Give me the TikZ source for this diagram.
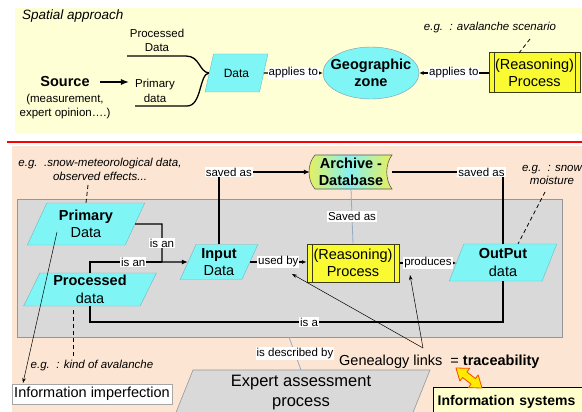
\documentclass[tikz,border=0pt]{standalone}
\usepackage{fontspec}
\setmainfont{Liberation Sans}
\usetikzlibrary{shapes.geometric,arrows.meta,calc}
\definecolor{panelyellow}{RGB}{255,255,214}
\definecolor{peach}{RGB}{252,229,210}
\definecolor{boxgray}{RGB}{217,217,217}
\definecolor{boxline}{RGB}{150,150,150}
\definecolor{cyanfill}{RGB}{128,245,245}
\definecolor{cyanline}{RGB}{110,185,190}
\definecolor{geoline}{RGB}{130,150,170}
\definecolor{procyellow}{RGB}{250,250,50}
\definecolor{procline}{RGB}{60,60,20}
\definecolor{linkblue}{RGB}{150,170,200}
\definecolor{infoyellow}{RGB}{255,255,204}
\definecolor{archyellow}{RGB}{232,240,90}
\definecolor{archcyan}{RGB}{135,240,240}
\definecolor{arrowyellow}{RGB}{255,235,0}
\definecolor{arroworange}{RGB}{255,70,0}
\newcommand{\fsz}[2]{\fontsize{#1}{#2}\selectfont}
\begin{document}
\begin{tikzpicture}[x=1pt,y=-1pt,
  para/.style={trapezium, trapezium left angle=#1, trapezium right angle={180-#1},
    trapezium stretches=true, draw=cyanline, fill=cyanfill, inner sep=0pt,
    align=center, font=\fsz{14.5}{17.5}},
  proc/.style={draw=procline, fill=procyellow, line width=1pt, inner sep=0pt,
    align=center, font=\fsz{14.5}{17},
    path picture={\draw[procline, line width=0.8pt]
      ([xshift=5pt]path picture bounding box.north west) -- ([xshift=5pt]path picture bounding box.south west)
      ([xshift=-5pt]path picture bounding box.north east) -- ([xshift=-5pt]path picture bounding box.south east);}},
  lbl/.style={fill=white, inner sep=1pt, font=\fsz{11.5}{13}},
  egtext/.style={font=\itshape\fsz{11.5}{13.5}, inner sep=0pt},
  conn/.style={line width=1.3pt},
  bigarr/.style={-{Latex[length=8pt,width=6pt]}},
  medarr/.style={-{Latex[length=6pt,width=5pt]}},
  smallarr/.style={-{Latex[length=4.5pt,width=4pt]}},
  thinarr/.style={line width=0.5pt, -{Stealth[length=5pt,width=3.5pt]}},
  dashline/.style={line width=0.8pt, dash pattern=on 4pt off 3pt},
  linkline/.style={line width=0.8pt, draw=linkblue}
]
\useasboundingbox (0,0) rectangle (582,412);
\fill[white] (0,0) rectangle (582,412);
% ---------- top panel ----------
\fill[panelyellow] (15,8) rectangle (582,133);
\node[font=\itshape\fsz{13.5}{16}, anchor=base west, inner sep=0pt] (spat) at (22,20) {Spatial approach};
\node[font=\fsz{11.5}{14}, align=center, inner sep=1pt] (procd) at (157,40) {Processed\\Data};
\node[font=\fsz{11.5}{15}, align=center, inner sep=1pt] (primd) at (155,90.5) {Primary\\data};
\node[font=\bfseries\fsz{14.5}{17}, inner sep=1pt] (src) at (65,82) {Source};
\node[font=\fsz{11.5}{13.5}, align=center, inner sep=0pt] (srcsub) at (65,106.5) {(measurement,\\expert opinion….)};
\draw[conn, bigarr, shorten <=9pt, shorten >=5pt] (src.east) -- (src.east -| primd.west);
\coordinate (tc1) at (127,56);
\coordinate (bc1) at (135,106);
\coordinate (dj) at (209,73);
\draw[conn] (tc1) -- (186,56) .. controls (200,56) and (199,72) .. (dj);
\draw[conn] (bc1) -- (187,106) .. controls (202,106) and (199,74) .. (dj);
\node[para=61, minimum width=63, minimum height=38, font=\fsz{12}{14}] (data) at (236.5,73) {Data};
\node[ellipse, draw=geoline, fill=cyanfill, minimum width=96, minimum height=52, inner sep=0pt] (geo) at (371,73) {};
\node[font=\bfseries\fsz{14.5}{17}, align=center, inner sep=0pt] (geot) at (geo.center) {Geographic\\zone};
\node[proc, minimum width=91, minimum height=40] (rp1) at (534.5,73) {(Reasoning)\\Process};
\draw[conn, smallarr] (data.east) -- node[lbl]{applies to} (geo.west);
\draw[conn, smallarr] (rp1.west) -- node[lbl]{applies to} (geo.east);
\node[egtext] (eg1) at (490,28) {e.g.\ \ : avalanche scenario};
\coordinate (d1a) at (530,39);
\coordinate (d1b) at (519,53);
\draw[dashline] (d1a) -- (d1b);
% ---------- separator ----------
\draw[red, line width=2pt] (7,142) -- (582,142);
% ---------- bottom panel ----------
\fill[peach] (12,146) rectangle (582,412);
\draw[boxline, fill=boxgray, line width=0.6pt] (17,199) rectangle (562,337);
\node[egtext, align=center] (eg2) at (100,169.5) {e.g.\ \ .snow-meteorological data,\\observed effects...};
\coordinate (d2a) at (88,185);
\coordinate (d2b) at (86,203);
\draw[dashline] (d2a) -- (d2b);
\node[egtext, align=center] (eg4) at (552,175) {e.g.\ \ : snow\\moisture};
\coordinate (d4a) at (545,192);
\coordinate (d4b) at (518,244);
\draw[dashline] (d4a) -- (d4b);
% archive shape
\shade[left color=archyellow, right color=archyellow, middle color=archcyan, draw=gray!70!black, line width=0.6pt]
  (315,155) -- (392,155) .. controls (385,164) and (385,180) .. (392,189) -- (315,189)
  .. controls (307,180) and (307,164) .. (315,155) -- cycle;
\node[minimum width=82, minimum height=34, inner sep=0pt, align=center, font=\bfseries\fsz{14.5}{17.5}] (arch) at (351,172) {Archive -\\Database};
\node[para=64.5, minimum width=118, minimum height=42] (pd) at (86,224) {\textbf{Primary}\\Data};
\node[para=67, minimum width=134, minimum height=33] (pr) at (90,289.5) {\textbf{Processed}\\data};
\node[para=66, minimum width=78, minimum height=35] (in) at (219,262) {\textbf{Input}\\Data};
\node[para=72, minimum width=108, minimum height=37] (out) at (503,262.5) {\textbf{OutPut}\\data};
\node[proc, minimum width=92, minimum height=38] (rp2) at (353,263) {(Reasoning)\\Process};
% connectors
\coordinate (jn) at (162,262);
\draw[conn, medarr] (pd.east) -| node[lbl, pos=0.75]{is an} (jn) -- (in.west);
\draw[conn] (pr.center |- pr.north) |- node[lbl, pos=0.8]{is an} (jn);
\draw[conn, medarr] (in.center |- in.north) |- node[lbl, pos=0.554]{saved as} (arch.west);
\draw[conn] (out.center |- out.north) |- node[lbl, pos=0.597]{saved as} (arch.east);
\draw[linkline] (arch.south) -- node[lbl]{Saved as} (rp2.north);
\draw[conn, smallarr] (in.east) -- node[lbl]{used by} (in.east -| rp2.west);
\draw[conn, smallarr] (rp2.east) -- node[lbl]{produces} (rp2.east -| out.west);
\coordinate (isa) at (309,322);
\draw[conn] (out.center |- out.south) |- (isa) -| (pr.center |- pr.south);
\node[lbl] (isal) at (isa) {is a};
\coordinate (d3a) at (73,310);
\coordinate (d3b) at (73,357);
\draw[dashline] (d3a) -- (d3b);
\node[egtext] (eg3) at (92,366) {e.g.\ \ : kind of avalanche};
% expert assessment
\draw[boxline, fill=boxgray, line width=0.6pt] (193,370) -- (430,370) -- (406,430) -- (169,430) -- cycle;
\node[font=\fsz{16.5}{20}, align=center, inner sep=0pt] (ex) at (301,393) {Expert assessment\\process};
\coordinate (dsa) at (289,337);
\coordinate (dsb) at (301,370);
\draw[linkline] (dsa) -- node[lbl]{is described by} (dsb);
% information imperfection
\node[draw=gray!70, fill=white, font=\fsz{14.5}{17}, minimum width=160, minimum height=20, inner sep=1pt] (ii) at (92,394) {Information imperfection};
\coordinate (iia) at (23,383);
\coordinate (pda) at (57,232);
\draw[thinarr, {Stealth[length=5pt,width=3.5pt]}-] (iia) -- (pda);
% genealogy
\node[font=\fsz{14.5}{17}, anchor=base west, inner sep=0pt] (gl) at (339,365) {Genealogy links\ \ = \textbf{traceability}};
\coordinate (glp) at (423,348);
\coordinate (ub) at (292,274);
\coordinate (pb) at (410,275);
\draw[thinarr] (glp) -- (ub);
\draw[thinarr] (glp) -- (pb);
% information systems
\node[draw=black, line width=1.3pt, fill=infoyellow, anchor=north west,
  inner xsep=4pt, inner ysep=8pt, text width=170, align=left, font=\bfseries\fsz{14}{17}] (is) at (433,387) {Information systems};
\draw[arroworange, fill=arrowyellow, line width=0.8pt, line join=round]
  (456,368) -- (469.60,368.37) -- (466.86,371.93) -- (475.41,378.51) -- (478.16,374.95) -- (482,388)
  -- (468.40,387.63) -- (471.14,384.07) -- (462.59,377.49) -- (459.84,381.05) -- cycle;
\end{tikzpicture}
\end{document}
